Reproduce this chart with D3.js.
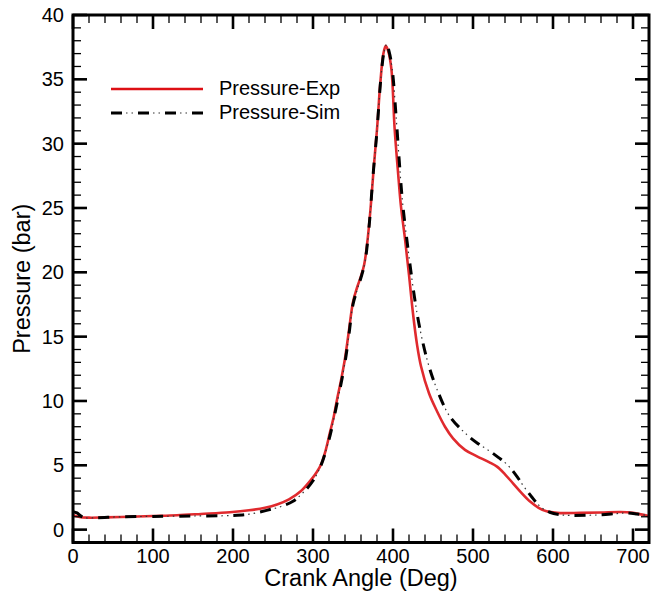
<!DOCTYPE html>
<html>
<head>
<meta charset="utf-8">
<script src="https://cdn.jsdelivr.net/npm/d3@7"></script>
<style>
  body { margin: 0; background: #fff; }
  svg { font-family: "Liberation Sans", Arial, sans-serif; }
</style>
</head>
<body>
<script>
// values
var expAngle = [0, 8, 20, 40, 70, 100, 130, 160, 196, 220, 240, 255, 270, 285, 296, 305, 311, 316, 321, 326, 330, 335, 340, 345, 350, 355, 360, 364, 368, 372, 376, 380, 384, 388, 391, 394, 398, 402, 406, 410, 415, 420, 425, 430, 435, 445, 455, 465, 475, 490, 505, 520, 530, 540, 550, 560, 571, 582, 592, 605, 634, 660, 684, 700, 720];
var expPressure = [1.12, 0.98, 0.93, 0.95, 1.0, 1.06, 1.12, 1.22, 1.35, 1.5, 1.7, 1.95, 2.35, 3.0, 3.75, 4.5, 5.2, 6.2, 7.5, 8.8, 10.1, 11.6, 13.3, 15.5, 17.7, 18.8, 19.7, 20.6, 22.4, 25.0, 28.2, 31.1, 34.6, 37.0, 37.6, 37.2, 35.8, 31.2, 28.0, 25.1, 22.6, 19.8, 16.8, 14.4, 12.7, 10.6, 9.2, 8.0, 7.1, 6.2, 5.7, 5.25, 4.9, 4.3, 3.6, 2.9, 2.2, 1.7, 1.42, 1.3, 1.3, 1.33, 1.37, 1.3, 1.05];

var simAngle = [0, 5, 10, 15, 30, 60, 100, 150, 200, 220, 242, 260, 275, 288, 300, 310, 320, 330, 340, 345, 350, 355, 361, 365, 370, 375, 380, 385, 389, 392, 395, 399, 404, 408, 412, 419, 427, 434, 444, 455, 471, 492, 506, 521, 532, 542, 553, 563, 574, 584, 596, 610, 621, 655, 680, 692, 705, 720];
var simPressure = [1.4, 1.3, 1.05, 0.92, 0.93, 1.0, 1.03, 1.06, 1.1, 1.2, 1.5, 1.8, 2.2, 2.9, 3.8, 5.0, 7.0, 9.8, 13.0, 15.2, 17.5, 18.6, 19.8, 20.8, 23.5, 27.5, 31.0, 35.2, 37.2, 37.7, 37.2, 35.8, 32.0, 28.5, 25.4, 21.7, 18.0, 15.5, 12.9, 10.9, 8.8, 7.4, 6.7, 6.1, 5.6, 5.1, 4.3, 3.4, 2.5, 1.8, 1.35, 1.15, 1.1, 1.14, 1.25, 1.3, 1.22, 1.08];

var xTicks = [0, 100, 200, 300, 400, 500, 600, 700];
var yTicks = [0, 5, 10, 15, 20, 25, 30, 35, 40];
var seriesNames = ["Pressure-Exp", "Pressure-Sim"];

var W = 652, H = 592;
var plotL = 73, plotR = 649, plotT = 15, plotB = 542.5;

var svg = d3.select("body").append("svg")
    .attr("width", W)
    .attr("height", H);

var x = d3.scaleLinear().domain([0, 720]).range([plotL, plotR]);
var y = d3.scaleLinear().domain([-1, 40]).range([plotB, plotT]);

var expData = expAngle.map(function (a, i) { return [a, expPressure[i]]; });
var simData = simAngle.map(function (a, i) { return [a, simPressure[i]]; });

var line = d3.line()
    .x(function (d) { return x(d[0]); })
    .y(function (d) { return y(d[1]); })
    .curve(d3.curveCatmullRom.alpha(0.5));

var red = "#e02a2e";

svg.append("clipPath").attr("id", "clip")
    .append("rect")
    .attr("x", plotL).attr("y", plotT)
    .attr("width", plotR - plotL).attr("height", plotB - plotT);

var plot = svg.append("g").attr("clip-path", "url(#clip)");

plot.append("path")
    .datum(expData)
    .attr("fill", "none")
    .attr("stroke", red)
    .attr("stroke-width", 2.6)
    .attr("d", line);

// dash-dot-dot: thick dashes plus thin dots on the same path
plot.append("path")
    .datum(simData)
    .attr("fill", "none")
    .attr("stroke", "#000")
    .attr("stroke-width", 3)
    .attr("stroke-dasharray", "11,16")
    .attr("d", line);
plot.append("path")
    .datum(simData)
    .attr("fill", "none")
    .attr("stroke", "#333")
    .attr("stroke-width", 1.2)
    .attr("stroke-dasharray", "0,15,1.5,4,1.5,5")
    .attr("d", line);

// inward ticks on all four sides
var xMinor = d3.range(0, 721, 20);
var yMinor = d3.range(-1, 41, 1);

function tickSet(g, vals, scale, len, width, dir) {
    g.selectAll(null).data(vals).enter().append("line")
        .attr("stroke", "#000")
        .attr("stroke-width", width)
        .attr("x1", function (d) { return dir === "left" ? plotL : dir === "right" ? plotR : scale(d); })
        .attr("x2", function (d) { return dir === "left" ? plotL + len : dir === "right" ? plotR - len : scale(d); })
        .attr("y1", function (d) { return dir === "bottom" ? plotB : dir === "top" ? plotT : scale(d); })
        .attr("y2", function (d) { return dir === "bottom" ? plotB - len : dir === "top" ? plotT + len : scale(d); });
}

var ticks = svg.append("g");
tickSet(ticks, xMinor, x, 8, 1.3, "bottom");
tickSet(ticks, xMinor, x, 8, 1.3, "top");
tickSet(ticks, xTicks, x, 14, 2.6, "bottom");
tickSet(ticks, xTicks, x, 14, 2.6, "top");
tickSet(ticks, yMinor, y, 8, 1.3, "left");
tickSet(ticks, yMinor, y, 8, 1.3, "right");
tickSet(ticks, yTicks, y, 14, 2.6, "left");
tickSet(ticks, yTicks, y, 14, 2.6, "right");

svg.append("rect")
    .attr("x", plotL).attr("y", plotT)
    .attr("width", plotR - plotL).attr("height", plotB - plotT)
    .attr("fill", "none")
    .attr("stroke", "#000")
    .attr("stroke-width", 3);

// tick labels
svg.append("g").selectAll("text").data(xTicks).enter().append("text")
    .attr("x", function (d) { return x(d); })
    .attr("y", 563)
    .attr("text-anchor", "middle")
    .attr("font-size", 20)
    .text(function (d) { return d; });

svg.append("g").selectAll("text").data(yTicks).enter().append("text")
    .attr("x", 64)
    .attr("y", function (d) { return y(d) + 7; })
    .attr("text-anchor", "end")
    .attr("font-size", 20)
    .text(function (d) { return d; });

// axis titles
svg.append("text")
    .attr("x", (plotL + plotR) / 2)
    .attr("y", 586)
    .attr("text-anchor", "middle")
    .attr("font-size", 23.5)
    .text("Crank Angle (Deg)");

svg.append("text")
    .attr("transform", "translate(30," + ((plotT + plotB) / 2) + ") rotate(-90)")
    .attr("text-anchor", "middle")
    .attr("font-size", 23.5)
    .text("Pressure (bar)");

// legend
var legend = svg.append("g");
legend.append("line")
    .attr("x1", 111).attr("x2", 203).attr("y1", 89).attr("y2", 89)
    .attr("stroke", "#dd0f14").attr("stroke-width", 2.6);
legend.append("line")
    .attr("x1", 111).attr("x2", 203).attr("y1", 113).attr("y2", 113)
    .attr("stroke", "#000").attr("stroke-width", 3)
    .attr("stroke-dasharray", "11,16");
legend.append("line")
    .attr("x1", 111).attr("x2", 203).attr("y1", 113).attr("y2", 113)
    .attr("stroke", "#333").attr("stroke-width", 1.2)
    .attr("stroke-dasharray", "0,15,1.5,4,1.5,5");
legend.selectAll("text").data(seriesNames).enter().append("text")
    .attr("x", 219)
    .attr("y", function (d, i) { return 95 + i * 24; })
    .attr("font-size", 20)
    .text(function (d) { return d; });
</script>
</body>
</html>
